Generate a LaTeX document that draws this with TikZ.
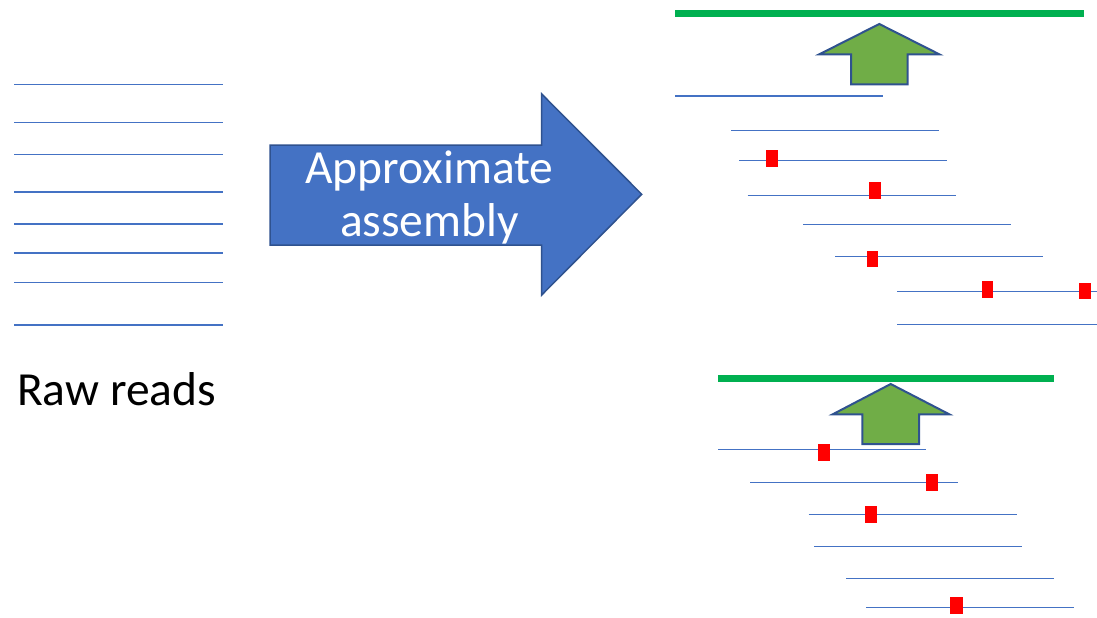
\documentclass[tikz,border=0pt]{standalone}
\usepackage{fontspec}
\setmainfont{Carlito}
\definecolor{readblue}{HTML}{4472C4}
\definecolor{edgeblue}{HTML}{2F528F}
\definecolor{consgreen}{HTML}{00B050}
\definecolor{arrowgreen}{HTML}{70AD47}
\definecolor{snpred}{HTML}{FF0000}
\tikzset{
  read/.style={draw=readblue, line width=1.3pt},
  consensus/.style={draw=consgreen, line width=7.5pt},
  uparrow/.style={fill=arrowgreen, draw=edgeblue, line width=2pt, line join=miter},
  snp/.style={fill=snpred, draw=none},
  bigtext/.style={inner sep=0, font=\fontsize{47.5}{57}\selectfont},
}
\begin{document}
\begin{tikzpicture}[x=1pt, y=-1pt]
\useasboundingbox (0,0) rectangle (1097,618);

% raw reads
\foreach \y in {84.7,122.3,154.3,192,224,253,282.3,325}
  \draw[read] (14,\y) -- (223,\y);
\node[bigtext, anchor=base west] (rawlabel) at (17,405) {Raw reads};

% assembly arrow
\filldraw[fill=readblue, draw=edgeblue, line width=1.5pt, line join=miter]
  (270,145) -- (541.7,145) -- (541.7,94) -- (641.7,194.3) -- (541.7,295)
  -- (541.7,245) -- (270,245) -- cycle;
\node[bigtext, anchor=base, text=white] (asm1) at (429.5,183.3) {Approximate};
\node[bigtext, anchor=base, text=white] (asm2) at (429.5,236.5) {assembly};

% first contig
\draw[consensus] (675,13.5) -- (1084,13.5);
\filldraw[uparrow] (879.3,24) -- (939.3,54.3) -- (907.7,54.3) -- (907.7,84.3)
  -- (851,84.3) -- (851,54.3) -- (819.3,54.3) -- cycle;
\draw[read] (675,96) -- (882.7,96);
\draw[read] (731,130.7) -- (938.7,130.7);
\draw[read] (739,160.7) -- (946.7,160.7);
\draw[read] (747.7,195.7) -- (955.7,195.7);
\draw[read] (803,224.7) -- (1010.7,224.7);
\draw[read] (835,256.7) -- (1042.7,256.7);
\draw[read] (897,291.7) -- (1105,291.7);
\draw[read] (897,324.7) -- (1105,324.7);
\fill[snp] (766,150) rectangle (778,166.7);
\fill[snp] (868.7,182) rectangle (880.7,198.7);
\fill[snp] (867,250.7) rectangle (878.3,267.3);
\fill[snp] (981.7,281) rectangle (993.3,297.7);
\fill[snp] (1079.3,282.7) rectangle (1091.3,299.3);

% second contig
\draw[consensus] (718,378.5) -- (1054,378.5);
\filldraw[uparrow] (890.7,384) -- (949.3,414.3) -- (919,414.3) -- (919,444)
  -- (862.3,444) -- (862.3,414.3) -- (832.7,414.3) -- cycle;
\draw[read] (718,449.3) -- (926.3,449.3);
\draw[read] (750,482.7) -- (958.3,482.7);
\draw[read] (808.7,514.3) -- (1016.7,514.3);
\draw[read] (814,546.7) -- (1022.3,546.7);
\draw[read] (846,578.7) -- (1054,578.7);
\draw[read] (866,607.7) -- (1074.3,607.7);
\fill[snp] (817.7,444.3) rectangle (829.7,461.3);
\fill[snp] (926.3,473.7) rectangle (937.7,490.7);
\fill[snp] (864.7,505.7) rectangle (876.7,522.7);
\fill[snp] (950.3,597.3) rectangle (962.7,614);
\end{tikzpicture}
\end{document}
